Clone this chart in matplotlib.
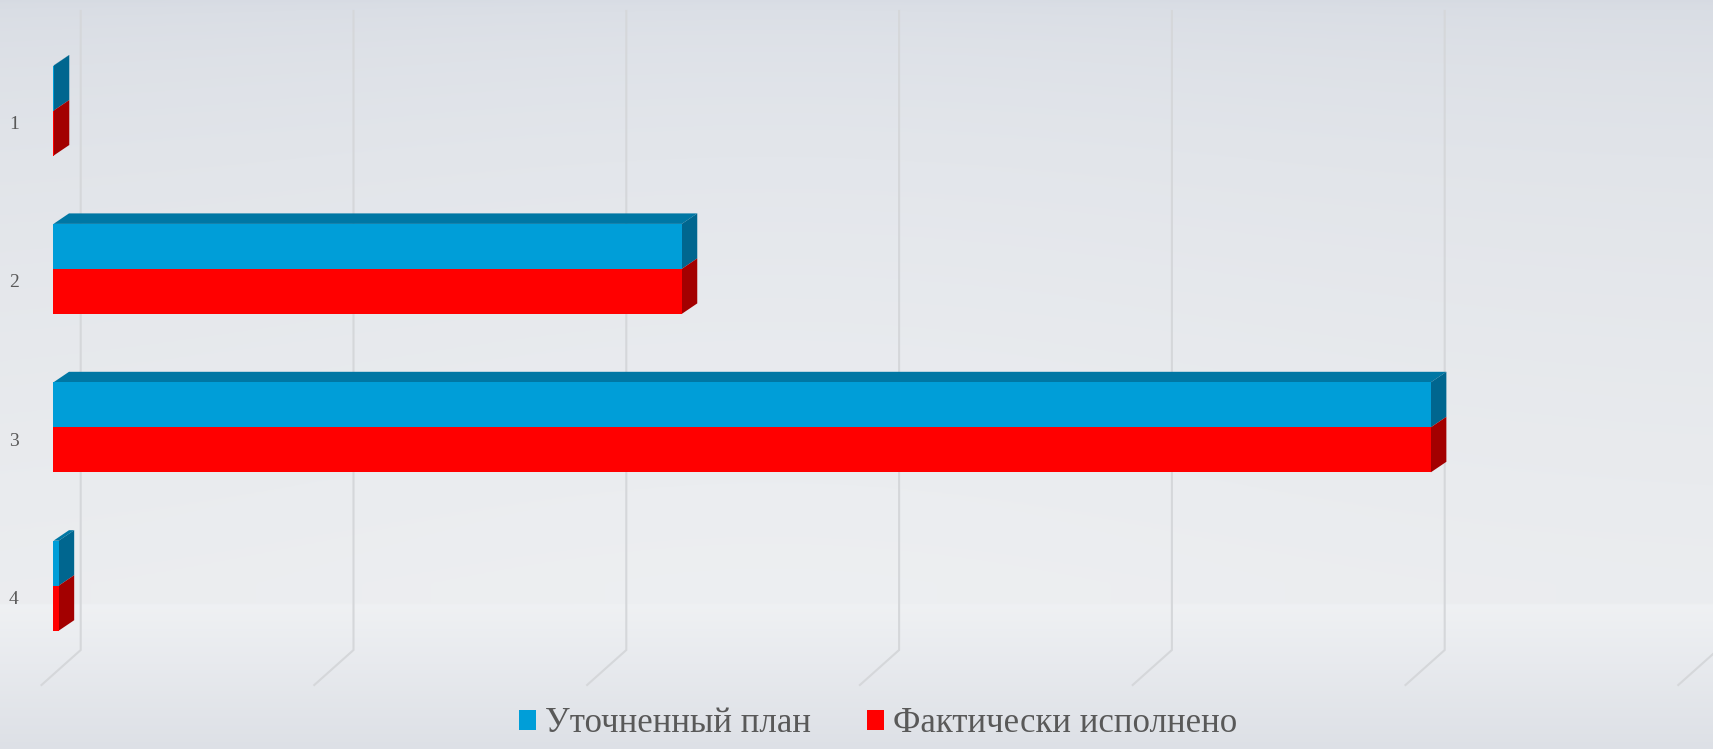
import numpy as np
import matplotlib
matplotlib.use("Agg")
import matplotlib.pyplot as plt
from matplotlib.patches import Polygon, Patch

# --- data ---
categories = ["1", "2", "3", "4"]
plan = [0.001, 2.303, 5.049, 0.019]      # Уточненный план
fact = [0.001, 2.303, 5.049, 0.019]      # Фактически исполнено
series_names = ["Уточненный план", "Фактически исполнено"]
grid_values = [0, 1, 2, 3, 4, 5, 6]

# --- colours ---
blue_front, blue_top, blue_side = "#009ED8", "#0077A4", "#00668F"
red_front, red_top, red_side = "#FF0000", "#B00000", "#A30000"
grid_col = "#D5D7DA"
text_col = "#595959"

W, H = 1713, 749
fig = plt.figure(figsize=(W / 100, H / 100), dpi=100)

# background gradient
bg = fig.add_axes([0, 0, 1, 1], zorder=0)
yy = np.linspace(0, 1, 300)[:, None]
xx = np.linspace(0, 1, 600)[None, :]
top_c = np.array([0.865, 0.882, 0.912])
mid_c = np.array([0.945, 0.952, 0.962])
bot_c = np.array([0.868, 0.880, 0.903])
t = np.clip(yy / 0.78, 0, 1)
upper = top_c + (mid_c - top_c) * np.sqrt(t)[..., None]
t2 = np.clip((yy - 0.81) / 0.19, 0, 1)
lower = (mid_c - 0.008) + (bot_c - mid_c + 0.008) * t2[..., None]
img = np.where((yy < 0.808)[..., None], upper, lower)
img = np.broadcast_to(img, (300, 600, 3)).copy()
side = 1 - 0.35 * np.exp(-((xx - 0.45) / 0.35) ** 2)
img = img - 0.025 * side[..., None] * (yy < 0.808)[..., None]
bg.imshow(np.clip(img, 0, 1), aspect="auto", extent=[0, 1, 0, 1])
bg.axis("off")

# main axes: x in value units, y in category index (inverted)
px_per_unit = 272.8
px_per_cat = 158.4
x0_px, y0_px = 53.5, 110.5
ax = fig.add_axes([0, 0, 1, 1], zorder=1)
ax.set_xlim(-x0_px / px_per_unit, (W - x0_px) / px_per_unit)
ax.set_ylim((H - y0_px) / px_per_cat, -y0_px / px_per_cat)
ax.axis("off")
ax.patch.set_alpha(0)

# 3D offsets in data units
dx = 15.5 / px_per_unit
dy = -10.5 / px_per_cat
wall_dx = 27.2 / px_per_unit
floor_dx = -12.0 / px_per_unit
grid_top = (11 - y0_px) / px_per_cat
grid_bot = (650 - y0_px) / px_per_cat
floor_y = (685 - y0_px) / px_per_cat
floor_off = floor_dx - wall_dx

for g in grid_values:
    gx = g + wall_dx
    ax.plot([gx, gx, gx + floor_off], [grid_top, grid_bot, floor_y],
            color=grid_col, lw=1.5, solid_joinstyle="miter", zorder=1)

half = 45 / px_per_cat


def box(v, ytop, ybot, front, top, side, draw_top):
    if draw_top:
        ax.add_patch(Polygon([(0, ytop), (dx, ytop + dy), (v + dx, ytop + dy), (v, ytop)],
                             closed=True, fc=top, ec="none", zorder=3))
    ax.add_patch(Polygon([(v, ytop), (v + dx, ytop + dy), (v + dx, ybot + dy), (v, ybot)],
                         closed=True, fc=side, ec="none", zorder=3))
    ax.barh((ytop + ybot) / 2, v, height=ybot - ytop, left=0, color=front, zorder=4)


for i, cat in enumerate(categories):
    box(plan[i], i - half, i, blue_front, blue_top, blue_side, True)
    box(fact[i], i, i + half, red_front, red_top, red_side, False)
    ax.text(-39.5 / px_per_unit, i + 14 / px_per_cat, cat,
            ha="center", va="center", fontsize=14, color=text_col,
            family="Liberation Serif")

handles = [Patch(facecolor=blue_front, edgecolor="none"),
           Patch(facecolor=red_front, edgecolor="none")]
fig.legend(handles, series_names, loc="lower center", bbox_to_anchor=(0.5125, -0.03),
           ncol=2, frameon=False, prop={"family": "Liberation Serif", "size": 25},
           labelcolor=text_col, handlelength=0.5, handleheight=0.5,
           handletextpad=0.25, columnspacing=1.6)

fig.savefig("out.png", dpi=100)
